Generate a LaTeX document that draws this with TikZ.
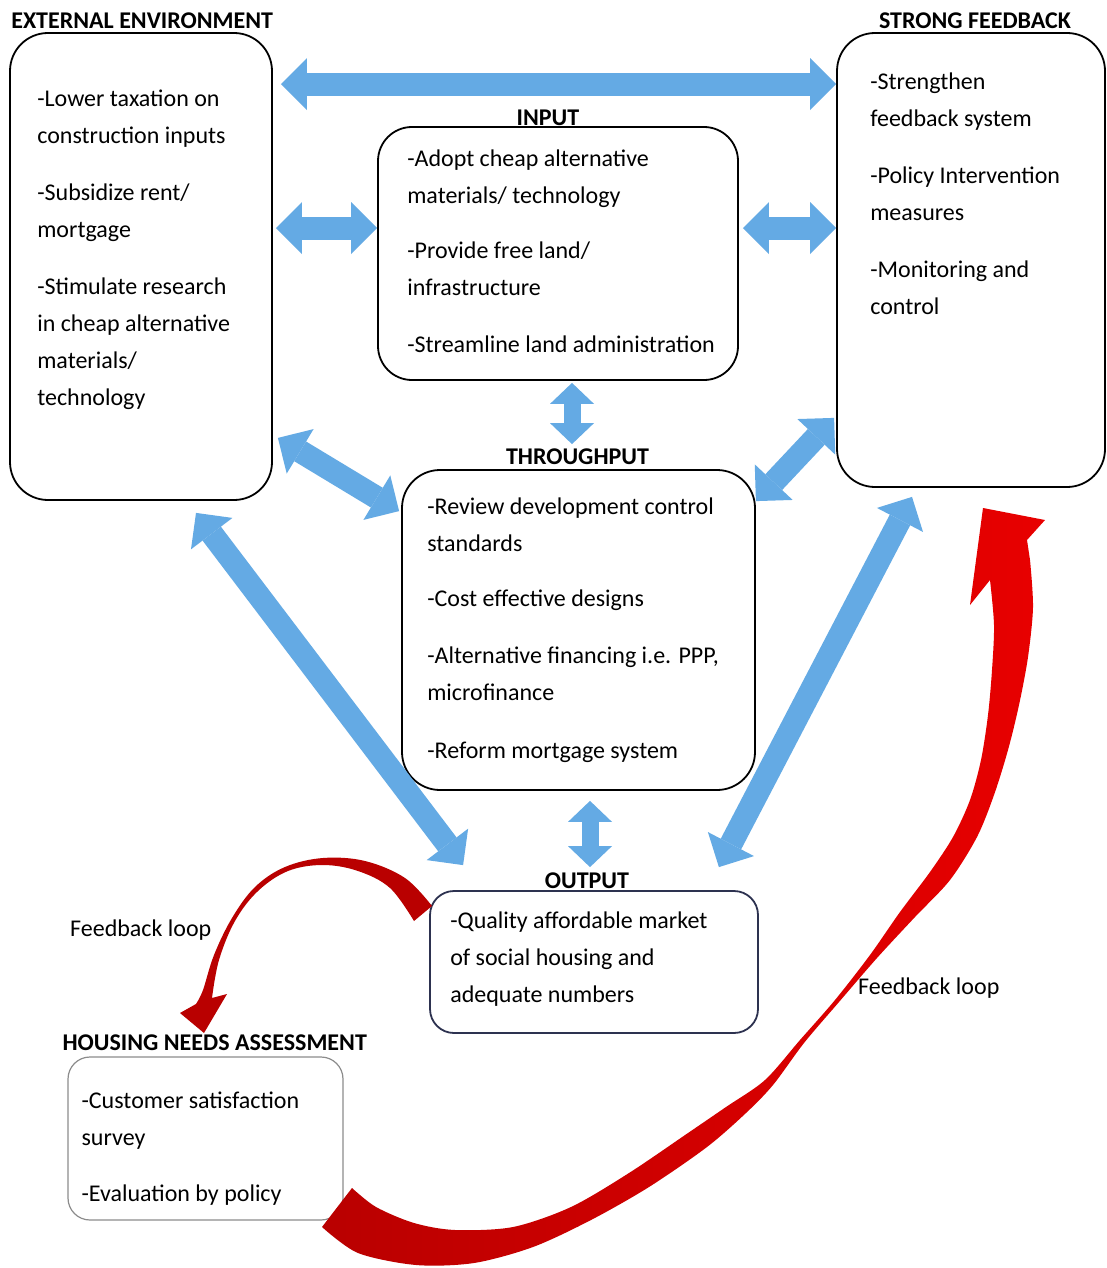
\documentclass[tikz,border=0pt]{standalone}
\usepackage{fontspec}
\setmainfont{Carlito}
\usetikzlibrary{arrows.meta}

\definecolor{flowblue}{RGB}{100,170,228}
\definecolor{loopdark}{RGB}{185,0,0}
\definecolor{loopbright}{RGB}{232,0,0}
\definecolor{outline}{RGB}{45,50,80}

\begin{document}
\begin{tikzpicture}[x=1pt, y=-1pt,
    box/.style={draw, line width=1.8pt, rounded corners=38pt, fill=white, inner sep=0pt},
    txt/.style={anchor=north west, align=left, inner sep=0pt, font=\fontsize{24}{37}\selectfont},
    hd/.style={inner sep=0pt, font=\fontsize{24}{28}\selectfont\bfseries},
    flow/.style={draw=flowblue, line width=23pt,
      {Triangle[width=52pt,length=26pt,line width=0pt]}-{Triangle[width=52pt,length=26pt,line width=0pt]}},
    flowsmall/.style={draw=flowblue, line width=17pt,
      {Triangle[width=44pt,length=21pt,line width=0pt]}-{Triangle[width=44pt,length=21pt,line width=0pt]}}]

  \useasboundingbox (0,0) rectangle (1107,1268);
  \fill[white] (0,0) rectangle (1107,1268);

  % ---- boxes ----
  \node[box, minimum width=262, minimum height=467] (ext) at (141,266.5) {};
  \node[box, minimum width=268, minimum height=454] (fb) at (971,260) {};
  \node[box, minimum width=360, minimum height=253, rounded corners=34pt] (inp) at (558,253.5) {};
  \node[box, minimum width=353, minimum height=320] (thr) at (578.5,630) {};
  \node[box, minimum width=328, minimum height=142, rounded corners=24pt, draw=outline] (out) at (594,962) {};
  \node[box, minimum width=275, minimum height=163, rounded corners=22pt, draw=black!45, line width=1.2pt] (hna) at (205.5,1138.5) {};

  % ---- blue two-way arrows ----
  \draw[flow] ([shift={(8,52)}]ext.north east) -- ([shift={(0,52)}]fb.north west);
  \draw[flow] ([shift={(3,196)}]ext.north east) -- ([shift={(0,102)}]inp.north west);
  \draw[flow] ([shift={(4,102)}]inp.north east) -- ([shift={(0,196)}]fb.north west);
  \draw[flowsmall] ([shift={(14,2)}]inp.south) -- ([shift={(-6.5,-25)}]thr.north);
  \draw[flow] ([shift={(5,-63)}]ext.south east) -- ([shift={(-2,42)}]thr.north west);
  \draw[flow] ([shift={(-2,-70)}]fb.south west) -- ([shift={(0,32)}]thr.north east);
  \draw[flow] ([shift={(55,12)}]ext.south) -- ([shift={(34,-25)}]out.north west);
  \draw[flow] ([shift={(-59,9)}]fb.south) -- ([shift={(-40,-23)}]out.north east);
  \draw[flowsmall] ([shift={(11.5,10)}]thr.south) -- ([shift={(-4,-23)}]out.north);

  % ---- headings ----
  \node[hd, anchor=base west] (exthd) at ([shift={(2,-4)}]ext.north west) {EXTERNAL ENVIRONMENT};
  \node[hd, anchor=base] (fbhd) at ([shift={(4,-4)}]fb.north) {STRONG FEEDBACK};
  \node[hd, anchor=base] (inphd) at ([shift={(-10,-1)}]inp.north) {INPUT};
  \node[hd, anchor=base] (thrhd) at ([shift={(-1,-5)}]thr.north) {THROUGHPUT};
  \node[hd, anchor=base] (outhd) at ([shift={(-7,-2)}]out.north) {OUTPUT};
  \node[hd, anchor=base west] (hnahd) at ([shift={(-5,-6)}]hna.north west) {HOUSING NEEDS ASSESSMENT};

  % ---- box texts ----
  \node[txt] (exttxt) at ([shift={(28,48)}]ext.north west)
    {\strut-Lower taxation on\\construction inputs\\[20pt]-Subsidize rent/\\mortgage\\[20pt]-Stimulate research\\in cheap alternative\\materials/\\technology};
  \node[txt] (fbtxt) at ([shift={(34,31)}]fb.north west)
    {\strut-Strengthen\\feedback system\\[20pt]-Policy Intervention\\measures\\[20pt]-Monitoring and\\control};
  \node[txt] (inptxt) at ([shift={(30,14)}]inp.north west)
    {\strut-Adopt cheap alternative\\materials/ technology\\[18pt]-Provide free land/\\infrastructure\\[20pt]-Streamline land administration};
  \node[txt] (thrtxt) at ([shift={(26,19)}]thr.north west)
    {\strut-Review development control\\standards\\[18pt]-Cost effective designs\\[20pt]-Alternative financing i.e. PPP,\\microfinance\\[21pt]-Reform mortgage system};
  \node[txt] (outtxt) at ([shift={(21,12)}]out.north west)
    {\strut-Quality affordable market\\of social housing and\\adequate numbers};
  \node[txt] (hnatxt) at ([shift={(14,26)}]hna.north west)
    {\strut-Customer satisfaction\\survey\\[19pt]-Evaluation by policy};

  % ---- red feedback loops ----
  \fill[loopdark] plot[smooth, tension=0.6] coordinates {(432,906) (405,878) (365,861) (323,858) (285,867) (255,887) (232,918) (214,955) (203,990) (196,1004)}
    -- (180,1013) -- (204,1033) -- (227,994)
    -- plot[smooth, tension=0.6] coordinates {(212,998) (219,960) (235,921) (258,891) (288,871) (323,865) (358,871) (390,888) (414,921)} -- cycle;

  \shade[left color=loopdark, right color=loopbright] plot[smooth, tension=0.5] coordinates {(352,1188) (376,1207) (414,1223) (455,1230) (513,1227) (571,1207) (629,1173) (688,1133) (726,1107) (765,1080) (800,1040) (835,1000) (870,955) (900,912) (930,872) (953,837) (970,800) (981,760) (988,715) (992,670) (994,625) (990,580)}
    -- (970,605) -- (983,508) -- (1045,520) -- (1027,540)
    -- plot[smooth, tension=0.5] coordinates {(1030,560) (1033,607) (1028,657) (1019,705) (1008,750) (994,795) (977,837) (950,880) (915,917) (877,958) (839,1002) (804,1043) (773,1085) (746,1113) (707,1147) (649,1187) (591,1220) (533,1247) (474,1263) (416,1265) (358,1253) (322,1227)} -- cycle;

  \node[txt, anchor=west] (looplft) at (70,930) {Feedback loop};
  \node[txt, anchor=west] (looprgt) at (858,988) {Feedback loop};

\end{tikzpicture}
\end{document}
